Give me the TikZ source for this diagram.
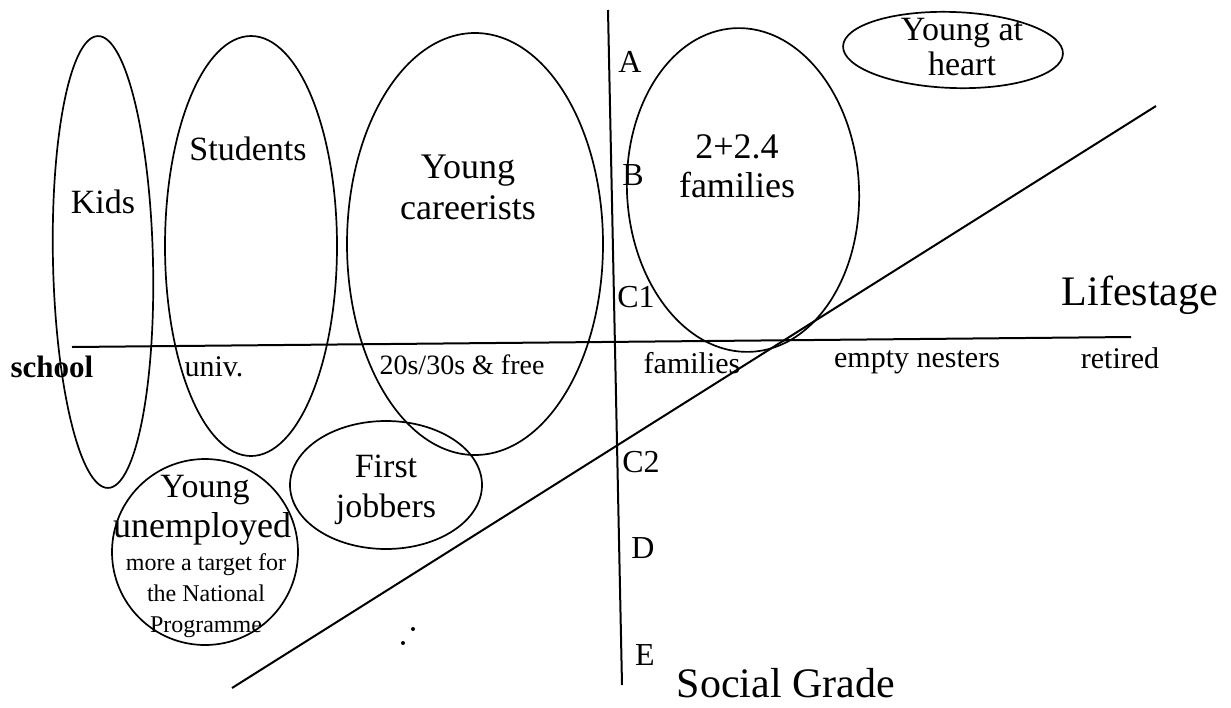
\documentclass[tikz,border=0pt]{standalone}
\usepackage{fontspec}
\setmainfont{Liberation Serif}
\begin{document}
\begin{tikzpicture}[x=1pt,y=-1pt,
  axis/.style={line width=2pt},
  ell/.style={line width=1.7pt},
  big/.style={font=\fontsize{34}{40}\selectfont, inner sep=0pt, align=center},
  small/.style={font=\fontsize{24}{31}\selectfont, inner sep=0pt, align=center},
  stage/.style={font=\fontsize{30}{36}\selectfont, inner sep=0pt},
  grade/.style={font=\fontsize{32}{36}\selectfont, inner sep=0pt},
  title/.style={font=\fontsize{42}{50}\selectfont, inner sep=0pt}]
\useasboundingbox (0,0) rectangle (1231,707);
% axes
\coordinate (hl) at (72,347); \coordinate (hr) at (1131,337);
\coordinate (vt) at (608,10); \coordinate (vb) at (622,685);
\coordinate (dl) at (232,688); \coordinate (dr) at (1156,106);
\draw[axis] (hl) -- (hr);
\draw[axis] (vt) -- (vb);
\draw[axis] (dl) -- (dr);
% ellipses
\draw[ell, rotate around={1.3:(103,262)}] (103,262) circle[x radius=50pt, y radius=226pt];
\draw[ell] (251,246) circle[x radius=86pt, y radius=210pt];
\draw[ell] (475,244) circle[x radius=128pt, y radius=211pt];
\draw[ell, rotate around={3:(743,190)}] (743,190) circle[x radius=116pt, y radius=162pt];
\draw[ell, rotate around={-2:(953,50)}] (953,50) circle[x radius=110pt, y radius=38pt];
\draw[ell] (386,485) circle[x radius=96pt, y radius=64pt];
\draw[ell] (205,552) circle[x radius=93pt, y radius=93pt];
% dots
\fill (413,629) circle[radius=2pt];
\fill (403,643) circle[radius=2pt];
% group labels
\node[big] (kids) at (103,202) {Kids};
\node[big] (students) at (248,149) {Students};
\node[big, font=\fontsize{36}{41}\selectfont] (careerists) at (468,187) {Young\\careerists};
\node[big, font=\fontsize{36}{39}\selectfont] (fam) at (737,166) {2+2.4\\families};
\node[big, font=\fontsize{34}{35}\selectfont] (heart) at (962,47) {Young at\\heart};
\node[big, font=\fontsize{34}{40}\selectfont] (jobbers) at (386,490) {First\\jobbers};
\node[big] (young) at (205,490) {Young};
\node[big, font=\fontsize{36}{40}\selectfont] (unemp) at (202,529) {unemployed};
\node[small] (target) at (206,596) {more a target for\\the National\\Programme};
% lifestage labels
\node[stage, font=\bfseries\fontsize{31}{36}\selectfont] (school) at (52,367) {school};
\node[stage] (univ) at (214,367) {univ.};
\node[stage, font=\fontsize{28}{34}\selectfont] (free) at (462,365) {20s/30s \& free};
\node[stage] (families) at (692,363) {families};
\node[stage] (empty) at (917,362) {empty nesters};
\node[stage] (retired) at (1120,358) {retired};
% social grades
\node[grade] (A) at (630,62) {A};
\node[grade] (B) at (633,175) {B};
\node[grade] (C1) at (636,297) {C1};
\node[grade] (C2) at (641,462) {C2};
\node[grade] (D) at (643,548) {D};
\node[grade] (E) at (645,655) {E};
% axis titles
\node[title] (life) at (1140,295) {Lifestage};
\node[title, anchor=base] (social) at (786,697) {Social Grade};
\end{tikzpicture}
\end{document}
